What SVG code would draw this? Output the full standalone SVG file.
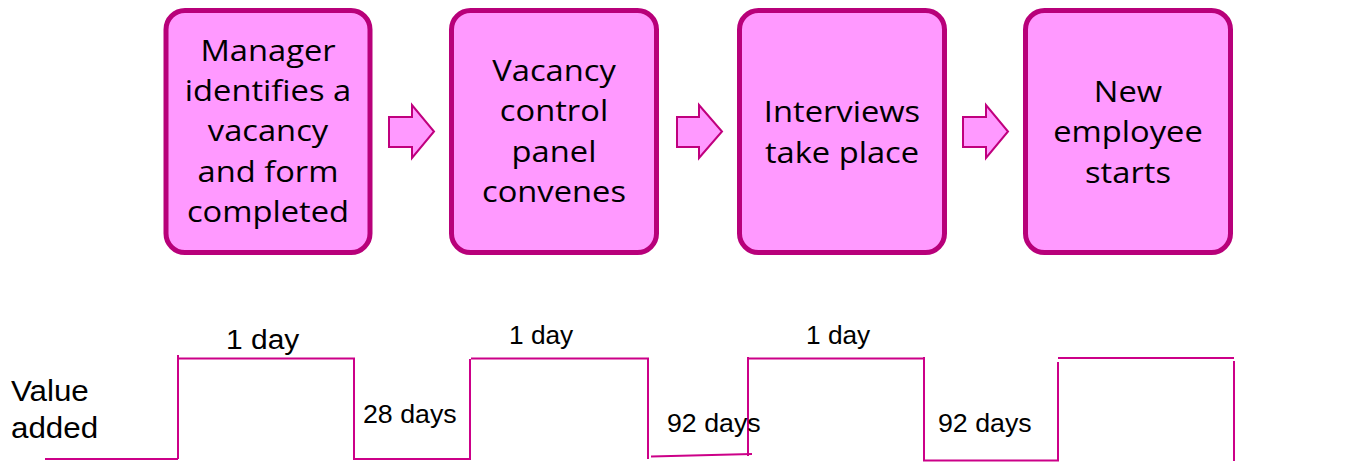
<svg xmlns="http://www.w3.org/2000/svg" width="1354" height="462" viewBox="0 0 1354 462">
<style>
.box{fill:#FF99FF;stroke:#B8007A;stroke-width:5}
.arr{fill:#FF99FF;stroke:#C0007E;stroke-width:2;stroke-linejoin:miter}
.bt{font-family:"Open Sans","Noto Sans",sans-serif;font-size:30px;fill:#000;text-anchor:middle}
.wave{fill:none;stroke:#CC0088;stroke-width:2}
.lt{font-family:"Liberation Sans",Arial,sans-serif;fill:#000}
</style>
<rect width="1354" height="462" fill="#fff"/>
<g id="node1">
<rect class="box" x="166" y="10.5" width="204" height="242" rx="19"/>
<text class="bt" transform="translate(268,0) scale(1.09,1)"><tspan x="0" y="61">Manager</tspan><tspan x="0" y="101">identifies a</tspan><tspan x="0" y="141">vacancy</tspan><tspan x="0" y="182">and form</tspan><tspan x="0" y="222">completed</tspan></text>
</g>
<g id="node2">
<rect class="box" x="451.5" y="10.5" width="205" height="242" rx="19"/>
<text class="bt" transform="translate(554,0) scale(1.09,1)"><tspan x="0" y="81">Vacancy</tspan><tspan x="0" y="121">control</tspan><tspan x="0" y="162">panel</tspan><tspan x="0" y="202">convenes</tspan></text>
</g>
<g id="node3">
<rect class="box" x="739.5" y="10.5" width="205" height="242" rx="19"/>
<text class="bt" transform="translate(842,0) scale(1.09,1)"><tspan x="0" y="122">Interviews</tspan><tspan x="0" y="163">take place</tspan></text>
</g>
<g id="node4">
<rect class="box" x="1025.5" y="10.5" width="205" height="242" rx="19"/>
<text class="bt" transform="translate(1128,0) scale(1.09,1)"><tspan x="0" y="102">New</tspan><tspan x="0" y="142">employee</tspan><tspan x="0" y="183">starts</tspan></text>
</g>
<g id="connectors">
<polygon class="arr" points="389,117 412,117 412,105 434,131.5 412,158 412,147 389,147"/>
<polygon class="arr" points="677,117 699,117 699,105 722,131.5 699,158 699,147 677,147"/>
<polygon class="arr" points="963,117 986,117 986,105 1008,131.5 986,158 986,147 963,147"/>
</g>
<g id="timeline">
<polyline class="wave" points="45,459 178,459"/>
<polyline class="wave" points="178,459 178,355"/>
<polyline class="wave" points="178,358.5 354,358.5 354,459 470,459 470,359"/>
<polyline class="wave" points="471,358.5 648,358.5 648,459"/>
<polyline class="wave" points="651,456.5 752,454"/>
<polyline class="wave" points="748,456 748,357"/>
<polyline class="wave" points="748,358.5 924,358.5"/>
<polyline class="wave" points="924,357 924,460.5 1058,460.5 1058,362"/>
<polyline class="wave" points="1058,358 1234,358"/>
<polyline class="wave" points="1234,361 1234,461"/>
<text class="lt" transform="translate(226,349) scale(1.07,1)" font-size="28">1 day</text>
<text class="lt" transform="translate(509,344) scale(1.05,1)" font-size="25">1 day</text>
<text class="lt" transform="translate(806,344) scale(1.05,1)" font-size="25">1 day</text>
<text class="lt" transform="translate(363,423) scale(1.07,1)" font-size="25">28 days</text>
<text class="lt" transform="translate(667,432) scale(1.07,1)" font-size="25">92 days</text>
<text class="lt" transform="translate(938,432) scale(1.07,1)" font-size="25">92 days</text>
<text class="lt" transform="translate(11,401) scale(1.08,1)" font-size="29">Value</text>
<text class="lt" transform="translate(11,438) scale(1.08,1)" font-size="29">added</text>
</g>
</svg>
